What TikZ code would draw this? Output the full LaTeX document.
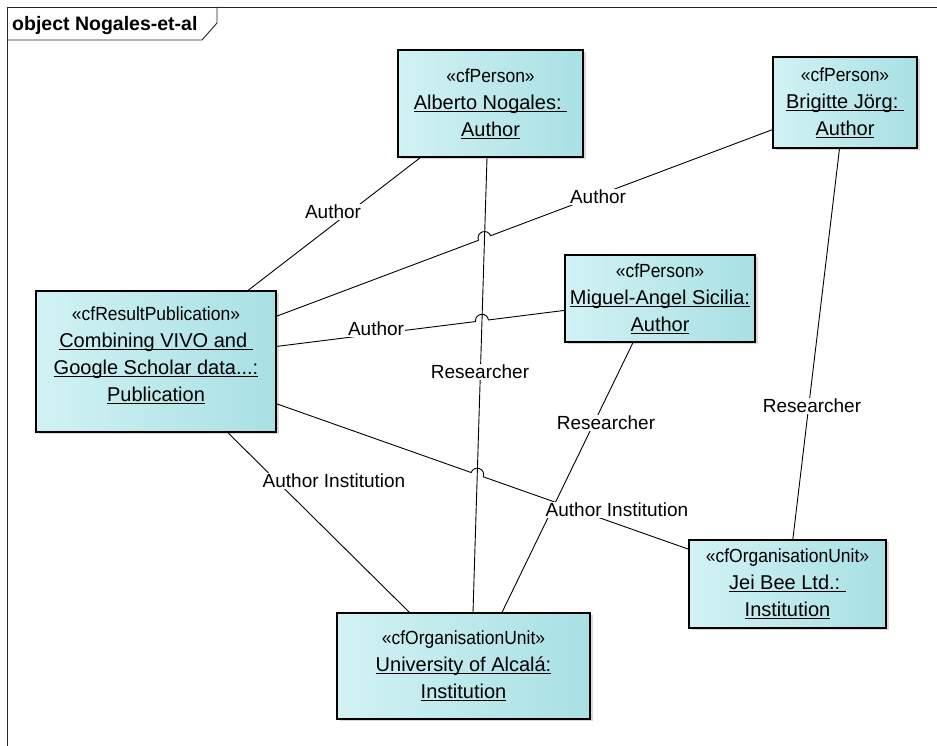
\documentclass[tikz,border=0pt]{standalone}
\usepackage{fontspec}
\setmainfont{Liberation Sans}
\newfontfamily\stereofont[FakeStretch=0.92]{Liberation Sans}
\usetikzlibrary{calc,intersections,shadows}
\definecolor{boxL}{RGB}{210,242,244}
\definecolor{boxR}{RGB}{168,224,228}
\newcommand\ulx[1]{\underline{\smash{#1}}}
\newcommand\stereo[1]{{\stereofont\fontsize{19}{27}\selectfont #1}}
\tikzset{
  umlobj/.style={draw=black, line width=1.2pt, left color=boxL, right color=boxR,
    align=center, inner sep=2pt, font=\fontsize{20}{27}\selectfont,
    drop shadow={shadow xshift=2.5pt, shadow yshift=-2.5pt, fill=black!30}},
  conn/.style={draw=black, line width=0.9pt},
  frameline/.style={draw=black!85, line width=0.9pt},
  elabel/.style={fill=white, inner sep=1.5pt, font=\fontsize{19}{22}\selectfont},
}
\begin{document}
\begin{tikzpicture}[x=1pt,y=1pt]
\useasboundingbox (0,0) rectangle (937,746);
\fill[white] (0,0) rectangle (937,746);
% frame
\draw[frameline] (7,0) -- (7,739) -- (937,739);
\draw[frameline] (7,706) -- (202,706) -- (217,723) -- (217,739);
\node[anchor=base west, font=\bfseries\fontsize{19.5}{22}\selectfont, inner sep=0] (title) at (12,715) {object Nogales-et-al};

% objects
\node[umlobj, minimum width=240pt, minimum height=141pt] (pub) at (156,384.5)
  {\stereo{«cfResultPublication»}\\ \ulx{Combining VIVO and\ }\\ \ulx{Google Scholar data...:}\\ \ulx{Publication}\\[-13pt]\mbox{}};
\node[umlobj, minimum width=185pt, minimum height=107pt] (alb) at (490.5,642.5)
  {\stereo{«cfPerson»}\\ \ulx{Alberto Nogales:\ }\\ \ulx{Author}};
\node[umlobj, minimum width=144pt, minimum height=91pt] (bri) at (845,643.5)
  {\stereo{«cfPerson»}\\ \ulx{Brigitte Jörg:\ }\\ \ulx{Author}};
\node[umlobj, minimum width=190pt, minimum height=87pt] (mig) at (660,447.5)
  {\stereo{«cfPerson»}\\ \ulx{Miguel-Angel Sicilia:}\\ \ulx{Author}};
\node[umlobj, minimum width=197pt, minimum height=88pt] (jei) at (787.5,162)
  {\stereo{«cfOrganisationUnit»}\\ \ulx{Jei Bee Ltd.:\ }\\ \ulx{Institution}};
\node[umlobj, minimum width=253pt, minimum height=106pt] (uni) at (463.5,80)
  {\stereo{«cfOrganisationUnit»}\\ \ulx{University of Alcalá:}\\ \ulx{Institution}};

% connectors
\draw[conn] (pub) -- (alb);
\draw[conn] (pub) -- (uni);
\draw[conn] (bri) -- (jei);
\coordinate (aS) at ([xshift=-3.5pt]alb.south);
\coordinate (uN) at ([xshift=9.5pt]uni.north);
\draw[conn, name path=vAU] (aS) -- (uN);
\coordinate (mS) at ([xshift=-27pt]mig.south);
\coordinate (uN2) at ([xshift=38.5pt]uni.north);
\draw[conn] (mS) -- (uN2);

% connectors with hops over the Alberto--University line
\path[name path=pb] (pub.center) -- (bri.center);
\path[name intersections={of=vAU and pb, by=xb}];
\draw[conn] let \p1=($(bri.center)-(pub.center)$), \n1={atan2(\y1,\x1)} in
  (pub) -- ($(xb)!6.5pt!(pub.center)$) arc[start angle=\n1+180, end angle=\n1, radius=6.5pt] -- (bri);
\path[name path=pm] (pub.center) -- (mig.center);
\path[name intersections={of=vAU and pm, by=xm}];
\draw[conn] let \p1=($(mig.center)-(pub.center)$), \n1={atan2(\y1,\x1)} in
  (pub) -- ($(xm)!6.5pt!(pub.center)$) arc[start angle=\n1+180, end angle=\n1, radius=6.5pt] -- (mig);
\path[name path=pj] (pub.center) -- (jei.center);
\path[name intersections={of=vAU and pj, by=xj}];
\draw[conn] let \p1=($(jei.center)-(pub.center)$), \n1={atan2(\y1,\x1)} in
  (pub) -- ($(xj)!6.5pt!(pub.center)$) arc[start angle=\n1+180, end angle=\n1, radius=6.5pt] -- (jei);

% connector labels
\node[elabel] (l1) at (333,534) {Author};
\node[elabel] (l2) at (598,549) {Author};
\node[elabel] (l3) at (376,417) {Author};
\node[elabel] (l4) at (480,374) {Researcher};
\node[elabel] (l5) at (606,323) {Researcher};
\node[elabel] (l6) at (812,340) {Researcher};
\node[elabel] (l7) at (334,265) {Author Institution};
\node[elabel] (l8) at (617,236) {Author Institution};
\end{tikzpicture}
\end{document}
